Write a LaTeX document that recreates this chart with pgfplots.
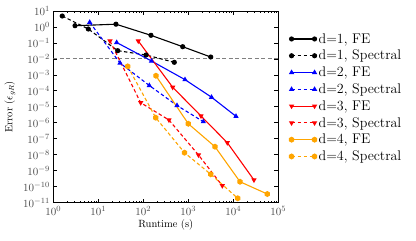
\documentclass[border=0pt]{standalone}
\usepackage{pgfplots}
\pgfplotsset{compat=1.18}
\pgfdeclareplotmark{hexagon*}{%
  \pgfpathmoveto{\pgfpointpolar{90}{1.2\pgfplotmarksize}}%
  \pgfpathlineto{\pgfpointpolar{150}{1.2\pgfplotmarksize}}%
  \pgfpathlineto{\pgfpointpolar{210}{1.2\pgfplotmarksize}}%
  \pgfpathlineto{\pgfpointpolar{270}{1.2\pgfplotmarksize}}%
  \pgfpathlineto{\pgfpointpolar{330}{1.2\pgfplotmarksize}}%
  \pgfpathlineto{\pgfpointpolar{30}{1.2\pgfplotmarksize}}%
  \pgfpathclose\pgfusepathqfillstroke}
\definecolor{myorange}{RGB}{255,165,0}
\begin{document}
\begin{tikzpicture}
\begin{axis}[
  name=main,
  xmode=log, ymode=log,
  scale only axis, width=225pt, height=191.5pt,
  xmin=1, xmax=1e5, ymin=1e-11, ymax=10,
  xtick={1,10,100,1000,10000,100000},
  ytick={1e-11,1e-10,1e-9,1e-8,1e-7,1e-6,1e-5,1e-4,1e-3,1e-2,1e-1,1,10},
  yminorticks=false,
  tick align=inside,
  major tick length=4pt, minor tick length=2pt,
  tick style={black, line width=0.6pt},
  axis line style={line width=0.8pt},
  tick label style={text=black!70, font=\fontsize{11}{13}\selectfont},
  xlabel={Runtime (s)}, ylabel={Error ($\epsilon_{gR}$)},
  label style={font=\fontsize{10.5}{12}\selectfont},
  xlabel style={yshift=2pt}, ylabel style={yshift=1pt},
  legend style={draw=none, fill=none, at={(1.0,0.5)}, anchor=west, xshift=8pt, yshift=9pt,
    font=\fontsize{14}{16}\selectfont, row sep=1.5pt},
  legend cell align=left,
  legend image code/.code={\draw[#1] plot coordinates {(0pt,0pt) (23pt,0pt)};},
  every axis plot/.append style={line width=1.1pt, mark size=2pt},
]
\addplot[gray, line width=0.8pt, dash pattern=on 4pt off 2.5pt, forget plot] coordinates {(1,1e-2) (1e5,1e-2)};

\addplot[black, mark=*, mark options={solid}] coordinates {
(3.04,1.2) (24.7,1.49) (148,0.30) (751,0.058) (3150,0.0131)};
\addlegendentry{d=1, FE}
\addplot[black, mark=*, dash pattern=on 3.5pt off 2.5pt, mark options={solid}] coordinates {
(1.58,4.86) (6.0,0.745) (27,0.0326) (115,0.0175) (489,0.0061)};
\addlegendentry{d=1, Spectral}

\addplot[blue, mark=triangle*, mark options={solid}] coordinates {
(25.6,0.106) (152,0.00736) (845,5.0e-4) (3280,3.97e-5) (11480,2.52e-6)};
\addlegendentry{d=2, FE}
\addplot[blue, mark=triangle*, dash pattern=on 3.5pt off 2.5pt, mark options={solid}] coordinates {
(6.44,1.96) (30.4,0.0055) (136,2.15e-4) (561,1.2e-5) (2155,1.16e-6)};
\addlegendentry{d=2, Spectral}

\addplot[red, mark=triangle*, mark options={solid, rotate=180}] coordinates {
(77.4,0.132) (450,1.66e-4) (1915,2.64e-6) (7360,5.6e-8) (28800,2.58e-10)};
\addlegendentry{d=3, FE}
\addplot[red, mark=triangle*, dash pattern=on 3.5pt off 2.5pt, mark options={solid, rotate=180}] coordinates {
(18.2,0.132) (87.5,1.8e-5) (372,1.48e-6) (1685,9.5e-9) (5700,1.13e-10)};
\addlegendentry{d=3, Spectral}

\addplot[myorange, mark=hexagon*, mark options={solid}] coordinates {
(191,8.8e-4) (1000,8.6e-7) (3920,3.14e-8) (14100,2.0e-10) (57000,3.4e-11)};
\addlegendentry{d=4, FE}
\addplot[myorange, mark=hexagon*, dash pattern=on 3.5pt off 2.5pt, mark options={solid}] coordinates {
(45,3.4e-3) (189,2.06e-6) (824,1.32e-8) (3150,5.9e-10) (12530,1.84e-11)};
\addlegendentry{d=4, Spectral}
\end{axis}
\pgfresetboundingbox
\path[use as bounding box] ([shift={(-53.3pt,-37.5pt)}]main.south west) rectangle ([shift={(137.7pt,11pt)}]main.north east);
\end{tikzpicture}
\end{document}
